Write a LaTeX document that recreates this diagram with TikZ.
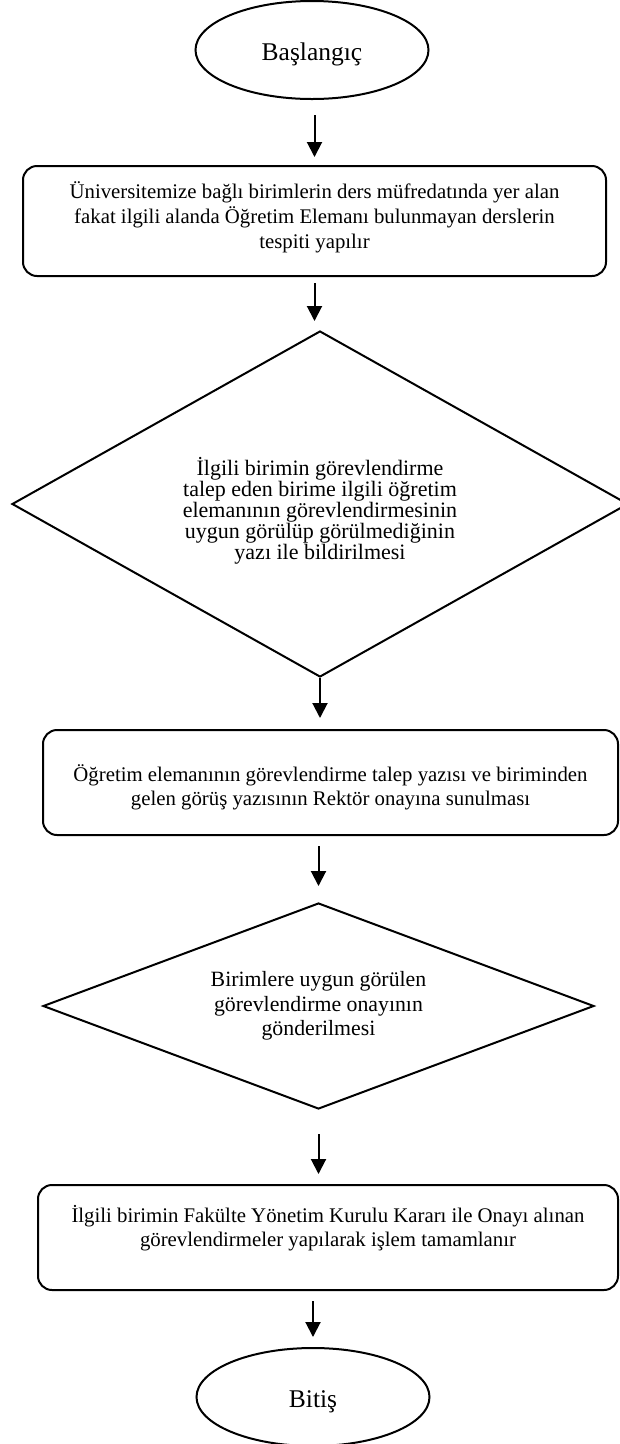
\documentclass[tikz,border=0pt]{standalone}
\usepackage{fontspec}
\setmainfont{Liberation Serif}
\usetikzlibrary{shapes.geometric,arrows.meta}

\begin{document}
\begin{tikzpicture}[x=1pt,y=-1pt]
    \tikzset{
        every node/.style={font=\fontsize{20.8}{24}\selectfont, align=center, inner sep=0pt, line width=2pt},
        terminal/.style={draw, ellipse, minimum width=233pt, minimum height=98pt, font=\fontsize{25.5}{28}\selectfont,
            text height=21pt, text depth=0pt},
        process/.style={draw, rounded corners=14pt, minimum width=#1, minimum height=105pt},
        decision/.style args={#1 by #2}{draw, diamond, aspect=2.5, minimum width=#1, minimum height=#2},
        flow/.style={line width=2pt, -{Triangle[width=15pt,length=15pt]}},}
    \useasboundingbox (0,0) rectangle (619,1444);
    \node[terminal] (start) at (312,50) {Başlangıç};
    \node[process=583pt, minimum height=110pt, font=\fontsize{20.8}{25}\selectfont, text depth=12.5pt] (tespit) at (314.5,221)
        {Üniversitemize bağlı birimlerin ders müfredatında yer alan\\
         fakat ilgili alanda Öğretim Elemanı bulunmayan derslerin\\
         tespiti yapılır};
    \node[decision=616pt by 346pt, font=\fontsize{22}{21}\selectfont, text height=115pt] (bildirim) at (320,504)
        {İlgili birimin görevlendirme\\ talep eden birime ilgili öğretim\\
         elemanının görevlendirmesinin\\ uygun görülüp görülmediğinin\\ yazı ile bildirilmesi};
    \node[process=575pt, text height=51pt] (sunum) at (330.5,782.5)
        {Öğretim elemanının görevlendirme talep yazısı ve biriminden\\
         gelen görüş yazısının Rektör onayına sunulması};
    \node[decision=551pt by 206pt, font=\fontsize{21.8}{24.5}\selectfont] (onay) at (318.5,1006)
        {Birimlere uygun görülen\\ görevlendirme onayının\\ gönderilmesi};
    \node[process=580pt] (islem) at (328,1237.5)
        {İlgili birimin Fakülte Yönetim Kurulu Kararı ile Onayı alınan\\
         görevlendirmeler yapılarak işlem tamamlanır\\ \mbox{}};
    \node[terminal] (bitis) at (313,1397) {Bitiş};
    % arrows
    \draw[flow, shorten <=15pt, shorten >=8pt] (start.south -| tespit.north) -- (tespit.north);
    \draw[flow, shorten <=6pt, shorten >=9pt] (tespit.south) -- (tespit.south |- bildirim.north);
    \draw[flow, shorten >=11pt] (bildirim.south) -- (bildirim.south |- sunum.north);
    \draw[flow, shorten <=10pt, shorten >=16pt] (onay.north |- sunum.south) -- (onay.north);
    \draw[flow, shorten <=24pt, shorten >=10pt] (onay.south) -- (onay.south |- islem.north);
    \draw[flow, shorten <=10pt, shorten >=10pt] (islem.south -| bitis.north) -- (bitis.north);
\end{tikzpicture}
\end{document}
